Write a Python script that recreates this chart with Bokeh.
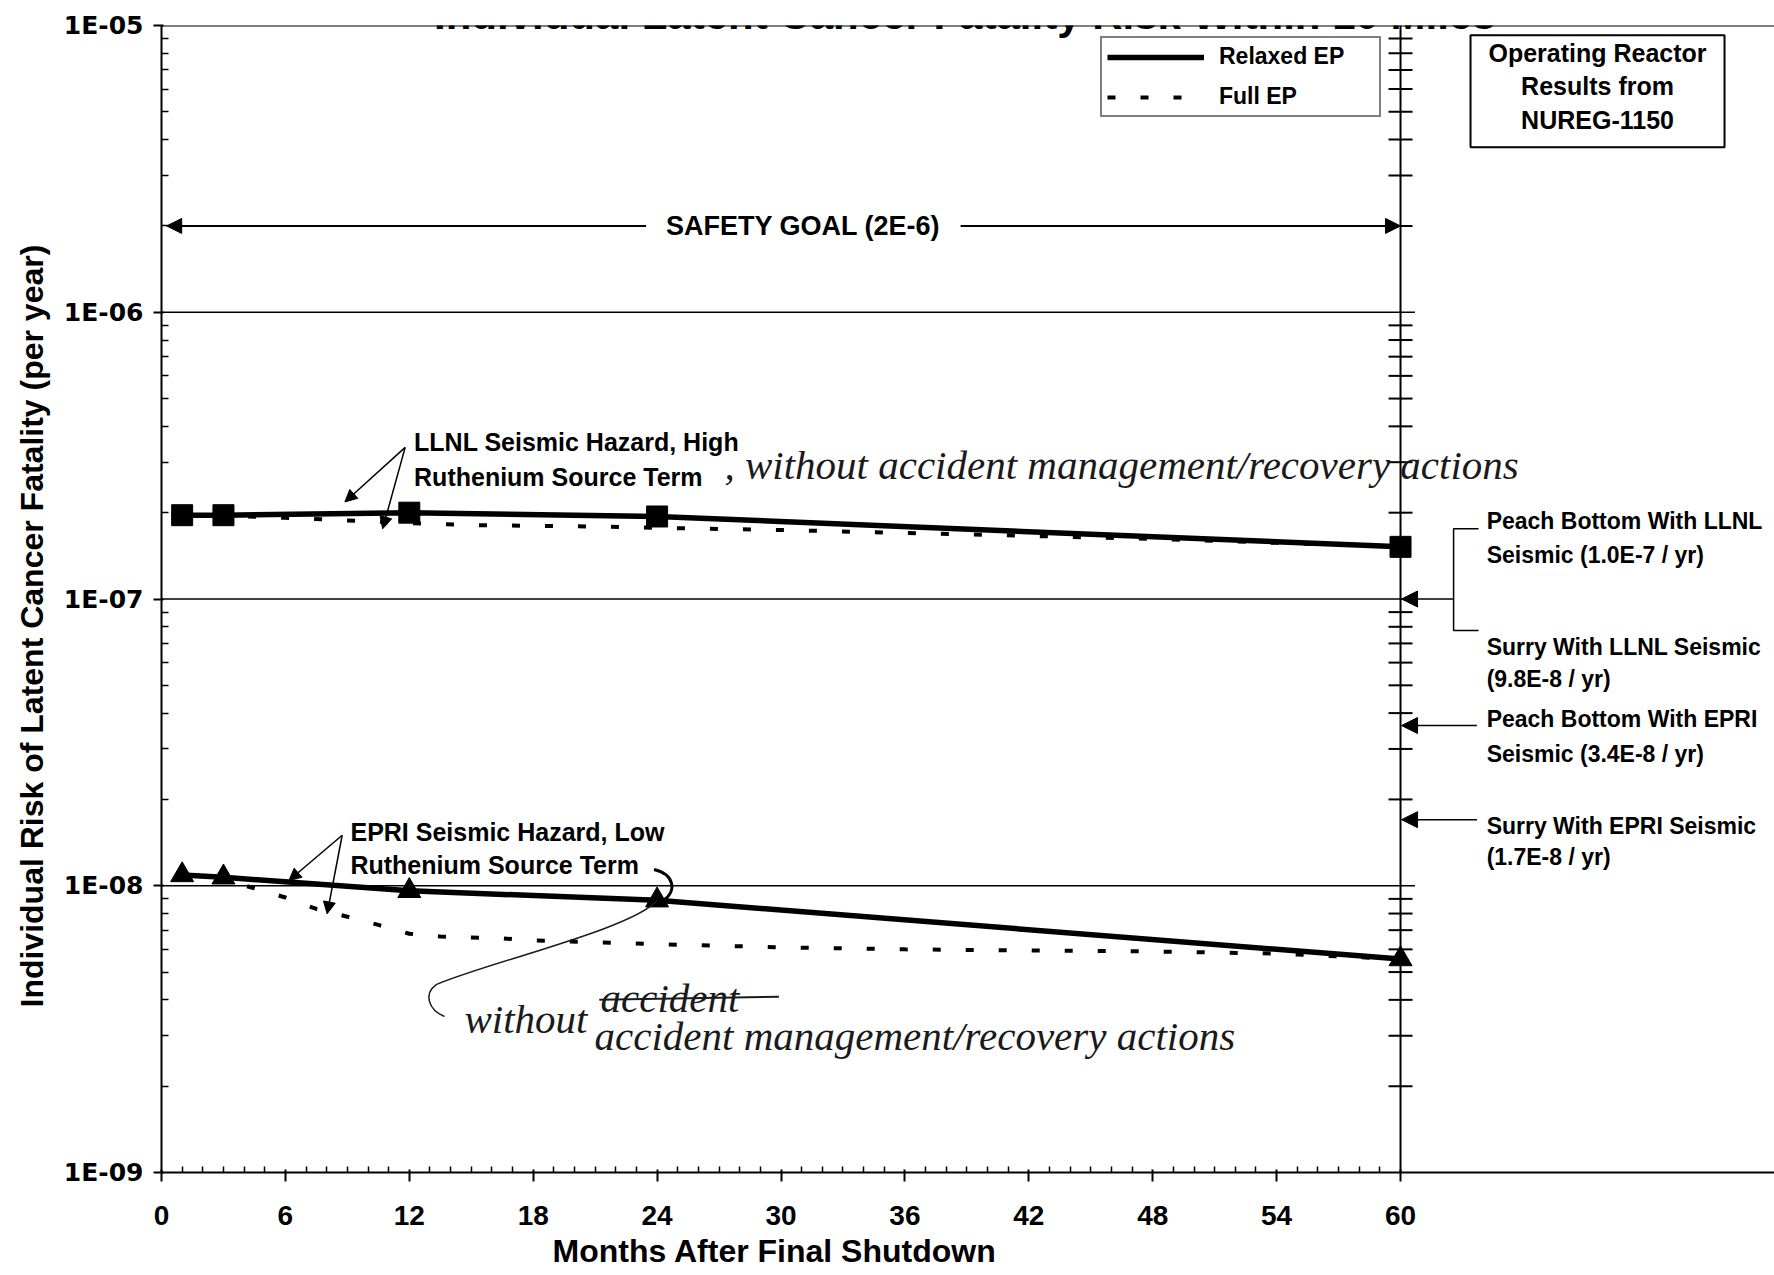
from bokeh.plotting import figure
from bokeh.models import (Range1d, FixedTicker, CustomJSTickFormatter, Span, Arrow,
                          NormalHead, Label, Legend, LegendItem, Title)
from bokeh.core.properties import value
from bokeh.embed import file_html
from bokeh.resources import INLINE

# ---------------- data ----------------
marker_months = [1, 3, 12, 24, 60]
llnl_relaxed_ep = [1.96e-7, 1.96e-7, 2.0e-7, 1.94e-7, 1.52e-7]
epri_relaxed_ep = [1.09e-8, 1.07e-8, 9.6e-9, 8.9e-9, 5.55e-9]

llnl_full_months = [1, 3, 6, 9, 12, 15, 18, 21, 24, 30, 36, 42, 48, 54, 60]
llnl_full_ep = [1.96e-7, 1.95e-7, 1.92e-7, 1.88e-7, 1.84e-7, 1.81e-7, 1.80e-7, 1.79e-7,
                1.77e-7, 1.74e-7, 1.70e-7, 1.66e-7, 1.62e-7, 1.57e-7, 1.52e-7]

epri_full_months = [1, 3, 4.5, 6, 7.5, 9, 10.5, 12, 13.5, 15, 16.5, 18, 21, 24, 30, 36, 42, 48, 54, 60]
epri_full_ep = [1.09e-8, 1.05e-8, 9.8e-9, 9.1e-9, 8.3e-9, 7.8e-9, 7.3e-9, 6.8e-9, 6.65e-9, 6.6e-9,
                6.55e-9, 6.45e-9, 6.35e-9, 6.25e-9, 6.1e-9, 6.0e-9, 5.95e-9, 5.9e-9, 5.8e-9, 5.55e-9]

safety_goal = 2e-6
reactor_results = [1.0e-7, 9.8e-8, 3.4e-8, 1.7e-8]

x_major_ticks = [0, 6, 12, 18, 24, 30, 36, 42, 48, 54, 60]
x_minor_ticks = [m for m in range(1, 60) if m % 6 != 0]
y_decades = [1e-9, 1e-8, 1e-7, 1e-6, 1e-5]
y_minor_ticks = [m * d for d in y_decades[:-1] for m in (2, 3, 4, 5, 6, 7, 8, 9)]
grid_values = [1e-8, 1e-7, 1e-6]

FONT = "Liberation Sans"
HAND = "Liberation Serif"

p = figure(width=1774, height=1275, x_range=Range1d(0, 78.11), y_range=Range1d(1e-9, 1e-5),
           y_axis_type="log", output_backend="svg", toolbar_location=None, title=None,
           min_border_left=161, min_border_right=0, min_border_top=25, min_border_bottom=103)
p.outline_line_color = None
p.xgrid.visible = False
p.ygrid.visible = False
p.background_fill_color = "white"

# ---------------- axes ----------------
xa = p.xaxis[0]
xa.ticker = FixedTicker(ticks=x_major_ticks, minor_ticks=x_minor_ticks)
xa.major_label_text_font = FONT
xa.major_label_text_font_style = "bold"
xa.major_label_text_font_size = "28px"
xa.major_label_text_color = "black"
xa.major_label_standoff = 24
xa.axis_line_width = 2
xa.axis_line_color = "black"
xa.major_tick_line_color = "black"
xa.minor_tick_line_color = "black"
xa.major_tick_line_width = 2
xa.minor_tick_line_width = 1.5
xa.major_tick_out = 9
xa.major_tick_in = 3
xa.minor_tick_in = 6
xa.minor_tick_out = 0

ya = p.yaxis[0]
ya.ticker = FixedTicker(ticks=y_decades, minor_ticks=y_minor_ticks)
ya.formatter = CustomJSTickFormatter(code="""
const e = Math.round(Math.log10(tick));
const s = String(Math.abs(e)).padStart(2, '0');
return '1E' + (e < 0 ? '-' : '+') + s;
""")
ya.major_label_text_font = "DejaVu Sans"
ya.major_label_text_font_style = "bold"
ya.major_label_text_font_size = "25px"
ya.major_label_text_color = "black"
ya.major_label_standoff = 10
ya.axis_line_width = 2
ya.axis_line_color = "black"
ya.major_tick_line_color = "black"
ya.minor_tick_line_color = "black"
ya.major_tick_line_width = 2
ya.minor_tick_line_width = 1.5
ya.major_tick_out = 8
ya.major_tick_in = 2
ya.minor_tick_in = 7
ya.minor_tick_out = 0

# axis titles, shifted along the axis to sit where the original has them
p.add_layout(Title(text="Months After Final Shutdown", align="left", offset=391, standoff=7,
                   text_font=FONT, text_font_style="bold", text_font_size="32px",
                   text_color="black"), "below")
p.add_layout(Title(text="Individual Risk of Latent Cancer Fatality (per year)", align="left",
                   offset=165, standoff=22, text_font=FONT, text_font_style="bold",
                   text_font_size="32px", text_color="black"), "left")

# frame lines: top border, x = 60 divider, gridlines
p.add_layout(Span(location=1e-5, dimension="width", line_color="black", line_width=2))
p.add_layout(Span(location=60, dimension="height", line_color="black", line_width=2))
p.segment(x0=[0] * len(grid_values), x1=[60.7] * len(grid_values), y0=grid_values, y1=grid_values,
          line_color="black", line_width=1.5)
p.scatter(x=[60] * len(y_minor_ticks), y=y_minor_ticks, marker="dash", size=24,
          line_color="black", line_width=2)

# ---------------- series ----------------
r_llnl_full = p.line(llnl_full_months, llnl_full_ep, line_color="black", line_width=4, line_dash="8 25")
p.line(epri_full_months, epri_full_ep, line_color="black", line_width=4, line_dash="8 25")
r_llnl_rel = p.line(marker_months, llnl_relaxed_ep, line_color="black", line_width=5.5)
p.line(marker_months, epri_relaxed_ep, line_color="black", line_width=5.5)
p.scatter(marker_months, llnl_relaxed_ep, marker="square", size=21, color="black")
p.scatter(marker_months, epri_relaxed_ep, marker="triangle", size=23, color="black")

legend = Legend(items=[LegendItem(label="Relaxed EP", renderers=[r_llnl_rel]),
                       LegendItem(label="Full EP", renderers=[r_llnl_full])],
                location=(939, 1055), orientation="vertical", border_line_color="black",
                border_line_width=2, background_fill_color="white", background_fill_alpha=1,
                padding=5, spacing=13, margin=0, glyph_width=97, glyph_height=22,
                label_height=22, label_width=155, label_standoff=15,
                label_text_font=FONT, label_text_font_style="bold", label_text_font_size="23px",
                label_text_color="black")
p.add_layout(legend)

# ---------------- title (cropped at top as in the scan) ----------------
p.add_layout(Label(x=38.9, y=1.092e-5, text="Individual Latent Cancer Fatality Risk Within 10 Miles",
                   text_align="center", text_baseline="alphabetic", text_font=FONT,
                   text_font_style="bold", text_font_size="42px", text_color="black"))

# ---------------- safety goal ----------------
p.add_layout(Arrow(x_start=0.25, y_start=safety_goal, x_end=60, y_end=safety_goal, line_width=2,
                   start=NormalHead(size=15, fill_color="black", line_color="black"),
                   end=NormalHead(size=15, fill_color="black", line_color="black")))
p.add_layout(Label(x=31.08, y=safety_goal, text="SAFETY GOAL (2E-6)", text_align="center",
                   text_baseline="middle", text_font=FONT, text_font_style="bold",
                   text_font_size="27px", text_color="black", background_fill_color="white",
                   padding=20))

# ---------------- operating reactor box ----------------
p.rect(x=[69.54], y=[5.895e-6], width=[254], height=[112], width_units="screen",
       height_units="screen", fill_color="white", line_color="black", line_width=2)
p.text(x=[69.54] * 3, y=[8.02e-6, 6.146e-6, 4.698e-6],
       text=["Operating Reactor", "Results from", "NUREG-1150"],
       text_align="center", text_baseline="middle", text_font=value(FONT),
       text_font_style="bold", text_font_size="25px", text_color="black")

# ---------------- series annotations ----------------
p.text(x=[12.23, 12.23, 9.15, 9.15], y=[3.52e-7, 2.66e-7, 1.538e-8, 1.183e-8],
       text=["LLNL Seismic Hazard, High", "Ruthenium Source Term",
             "EPRI Seismic Hazard, Low", "Ruthenium Source Term"],
       text_align="left", text_baseline="middle", text_font=value(FONT),
       text_font_style="bold", text_font_size="25px", text_color="black")
ann_arrows = [(11.80, 3.38e-7, 8.88, 2.18e-7), (11.80, 3.38e-7, 10.71, 1.757e-7),
              (8.75, 1.50e-8, 6.17, 1.043e-8), (8.75, 1.50e-8, 8.02, 7.98e-9)]
for xs, ys, xe, ye in ann_arrows:
    p.add_layout(Arrow(x_start=xs, y_start=ys, x_end=xe, y_end=ye, line_width=1.5,
                       end=NormalHead(size=12, fill_color="black", line_color="black")))

# ---------------- reactor results on the right ----------------
right_x = 64.17
p.text(x=[right_x] * 8,
       y=[1.867e-7, 1.429e-7, 6.79e-8, 5.28e-8, 3.80e-8, 2.89e-8, 1.62e-8, 1.257e-8],
       text=["Peach Bottom With LLNL", "Seismic (1.0E-7 / yr)",
             "Surry With LLNL Seismic", "(9.8E-8 / yr)",
             "Peach Bottom With EPRI", "Seismic (3.4E-8 / yr)",
             "Surry With EPRI Seismic", "(1.7E-8 / yr)"],
       text_align="left", text_baseline="middle", text_font=value(FONT),
       text_font_style="bold", text_font_size="23px", text_color="black")
p.multi_line(xs=[[63.78, 62.57, 62.57, 63.78]], ys=[[1.757e-7, 1.757e-7, 7.77e-8, 7.77e-8]],
             line_color="black", line_width=1.5)
for xs, yv in [(62.57, reactor_results[0]), (63.7, 3.62e-8), (63.7, reactor_results[3])]:
    p.add_layout(Arrow(x_start=xs, y_start=yv, x_end=60.05, y_end=yv, line_width=1.5,
                       end=NormalHead(size=16, fill_color="black", line_color="black")))

# ---------------- handwritten notes ----------------
p.text(x=[27.26, 14.67, 21.26, 20.97], y=[2.94e-7, 3.44e-9, 4.05e-9, 3.0e-9],
       text=[", without accident management/recovery actions", "without", "accident",
             "accident management/recovery actions"],
       text_align="left", text_baseline="middle", text_font=value(HAND),
       text_font_style="italic", text_font_size="41px", text_color="#1a1a1a")
p.segment(x0=[21.2], y0=[4.0e-9], x1=[29.9], y1=[4.1e-9], line_color="#1a1a1a", line_width=2)
p.bezier(x0=[24.0], y0=[8.9e-9], x1=[13.3], y1=[4.52e-9], cx0=[22.9], cy0=[7.1e-9],
         cx1=[15.8], cy1=[5.4e-9], line_color="#1a1a1a", line_width=1.5)
p.bezier(x0=[13.3], y0=[4.52e-9], x1=[13.7], y1=[3.5e-9], cx0=[12.7], cy0=[4.2e-9],
         cx1=[12.9], cy1=[3.7e-9], line_color="#1a1a1a", line_width=1.5)
p.bezier(x0=[23.85], y0=[1.14e-8], x1=[24.3], y1=[8.9e-9], cx0=[24.8], cy0=[1.1e-8],
         cx1=[25.0], cy1=[9.6e-9], line_color="black", line_width=3)

open("out.html", "w").write(file_html(p, INLINE))
